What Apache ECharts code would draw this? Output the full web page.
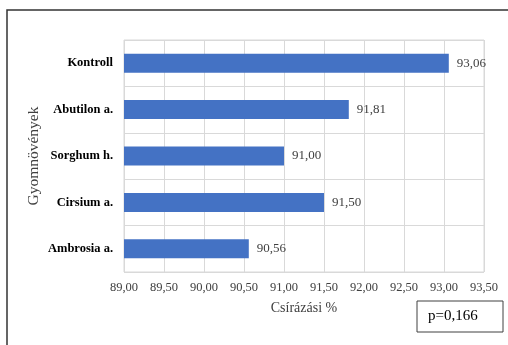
<!DOCTYPE html>
<html>
<head>
<meta charset="utf-8">
<script src="https://cdn.jsdelivr.net/npm/echarts@6/dist/echarts.min.js"></script>
<style>html,body{margin:0;padding:0;background:#fff;}#c{width:508px;height:345px;}</style>
</head>
<body>
<div id="c"></div>
<script>
const categories = ['Kontroll', 'Abutilon a.', 'Sorghum h.', 'Cirsium a.', 'Ambrosia a.'];
const values = [93.06, 91.81, 91.00, 91.50, 90.56];
const xTicks = [89, 89.5, 90, 90.5, 91, 91.5, 92, 92.5, 93, 93.5];
const xName = 'Csírázási %';
const yName = 'Gyomnövények';
const pNote = 'p=0,166';

const fmt = v => v.toFixed(2).replace('.', ',');
const serif = 'Liberation Serif';
const chart = echarts.init(document.getElementById('c'), null, {renderer: 'canvas'});
chart.setOption({
  animation: false,
  backgroundColor: '#fff',
  grid: {left: 124, right: 24, top: 40, bottom: 73, show: true, borderColor: '#d9d9d9', borderWidth: 1},
  xAxis: {
    type: 'value', min: xTicks[0], max: xTicks[xTicks.length - 1], interval: 0.5,
    axisLine: {show: false}, axisTick: {show: false},
    axisLabel: {formatter: fmt, fontFamily: serif, fontSize: 12.5, color: '#404040', margin: 9},
    splitLine: {show: true, lineStyle: {color: '#d9d9d9', width: 1}},
    name: xName, nameLocation: 'middle', nameGap: 29, nameMoveOverlap: false,
    nameTextStyle: {fontFamily: serif, fontSize: 14, color: '#404040'}
  },
  yAxis: {
    type: 'category', data: categories, inverse: true,
    axisLine: {show: false}, axisTick: {show: false},
    axisLabel: {fontFamily: serif, fontSize: 12.5, fontWeight: 'bold', color: '#000', margin: 11},
    splitLine: {show: true, lineStyle: {color: '#d9d9d9', width: 1}},
    name: yName, nameLocation: 'middle', nameGap: 82, nameRotate: 90, nameMoveOverlap: false,
    nameTextStyle: {fontFamily: serif, fontSize: 15.5, color: '#404040'}
  },
  series: [{
    type: 'bar', data: values, barWidth: 19,
    itemStyle: {color: '#4472C4'},
    label: {show: true, position: 'right', distance: 8, formatter: p => fmt(p.value),
      fontFamily: serif, fontSize: 13, color: '#404040'}
  }],
  graphic: [
    {type: 'rect', shape: {x: 7, y: 10, width: 520, height: 360}, style: {fill: 'none', stroke: '#333', lineWidth: 1.5}, silent: true},
    {type: 'rect', shape: {x: 417, y: 301, width: 86, height: 31}, style: {fill: '#fff', stroke: '#404040', lineWidth: 1}},
    {type: 'text', x: 428, y: 316.5, style: {text: pNote, font: '15px "Liberation Serif"', fill: '#000', verticalAlign: 'middle'}}
  ]
});
</script>
</body>
</html>
